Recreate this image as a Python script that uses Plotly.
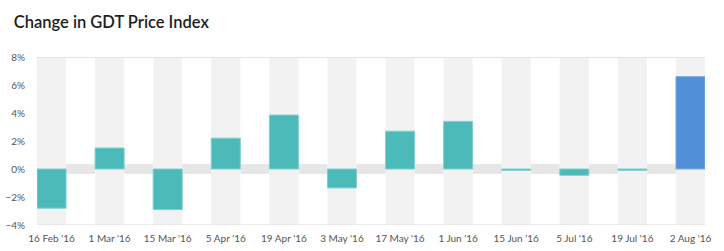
import plotly.graph_objects as go

dates = ["16 Feb '16", "1 Mar '16", "15 Mar '16", "5 Apr '16", "19 Apr '16", "3 May '16",
         "17 May '16", "1 Jun '16", "15 Jun '16", "5 Jul '16", "19 Jul '16", "2 Aug '16"]
changes = [-2.8, 1.5, -2.9, 2.2, 3.85, -1.35, 2.7, 3.4, -0.1, -0.45, -0.1, 6.6]
y_min, y_max = -4, 8
teal = "#4dbaba"
blue = "#518fd6"
colors = [teal] * (len(dates) - 1) + [blue]
line_colors = ["#7fd0d0"] * (len(dates) - 1) + ["#7faee6"]

fig = go.Figure()
# alternating background columns
fig.add_trace(go.Bar(x=dates, y=[y_max - y_min] * len(dates), base=[y_min] * len(dates),
                     width=0.5, marker=dict(color="#f2f2f2", line=dict(width=0)),
                     hoverinfo="skip", showlegend=False))
fig.add_trace(go.Bar(x=dates, y=changes, width=0.5,
                     marker=dict(color=colors, line=dict(color=line_colors, width=1)),
                     showlegend=False))

shapes = []
for i in range(len(dates) - 1):
    shapes.append(dict(type="rect", xref="x", yref="y", x0=i + 0.25, x1=i + 0.75,
                       y0=-0.35, y1=0.35, fillcolor="#e6e6e6", line=dict(width=0), layer="below"))
shapes.append(dict(type="line", xref="paper", yref="y", x0=0, x1=1, y0=y_max, y1=y_max,
                   line=dict(color="#e3e3e3", width=2)))
shapes.append(dict(type="line", xref="paper", yref="y", x0=0, x1=1, y0=y_min, y1=y_min,
                   line=dict(color="#dddddd", width=1)))

fig.update_layout(
    width=724, height=251,
    margin=dict(l=37, r=19, t=57, b=26),
    paper_bgcolor="white", plot_bgcolor="white",
    barmode="overlay",
    shapes=shapes,
    font=dict(family="Lato", color="#555555", size=10),
    title=dict(text="Change in GDT Price Index", x=0.019, xanchor="left", y=0.912, yanchor="middle",
               font=dict(family="Lato", size=16.5, color="#1e1e1e", weight=600)),
    xaxis=dict(range=[-0.25, len(dates) - 0.75], showgrid=False, zeroline=False, automargin=False,
               showline=False, ticks="outside", ticklen=4, tickcolor="rgba(0,0,0,0)",
               tickfont=dict(size=10, color="#555555")),
    yaxis=dict(range=[y_min, y_max], dtick=2, ticksuffix="%", showgrid=False, zeroline=False,
               automargin=False,
               showline=False, ticks="outside", ticklen=9, tickcolor="rgba(0,0,0,0)",
               tickfont=dict(size=10, color="#555555")),
)

fig.write_html("out.html")
